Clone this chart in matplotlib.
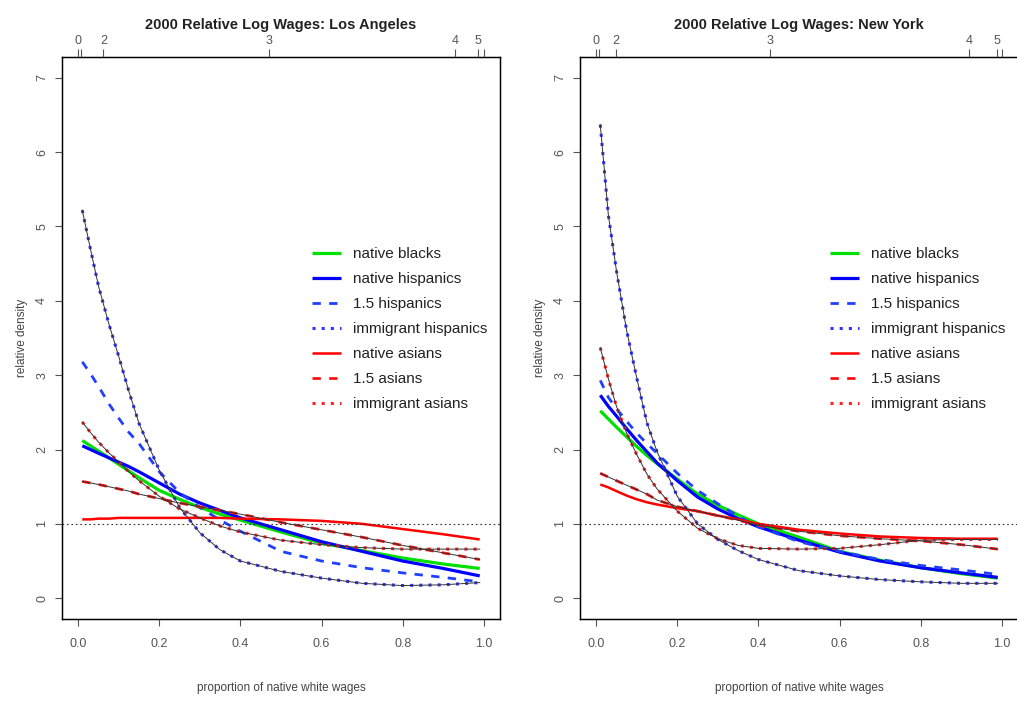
import matplotlib
matplotlib.use("Agg")
import matplotlib.pyplot as plt

# proportion of native white wages (common grid for all curves)
x = [0.01, 0.03, 0.05, 0.075, 0.1, 0.125, 0.15, 0.2, 0.25, 0.3, 0.35, 0.4,
     0.5, 0.6, 0.7, 0.8, 0.9, 0.99]

# Los Angeles relative densities
la_native_blacks = [2.12, 2.05, 1.98, 1.89, 1.80, 1.71, 1.62, 1.45, 1.33, 1.22, 1.13, 1.05,
                    0.89, 0.74, 0.64, 0.54, 0.46, 0.40]
la_native_hisp = [2.05, 2.00, 1.95, 1.89, 1.83, 1.77, 1.70, 1.55, 1.40, 1.28, 1.18, 1.08,
                  0.92, 0.76, 0.63, 0.50, 0.40, 0.30]
la_15_hisp = [3.18, 3.02, 2.85, 2.62, 2.42, 2.23, 2.08, 1.70, 1.42, 1.22, 1.05, 0.90,
              0.63, 0.50, 0.41, 0.34, 0.28, 0.22]
la_imm_hisp = [5.22, 4.70, 4.20, 3.70, 3.25, 2.78, 2.35, 1.72, 1.22, 0.88, 0.65, 0.50,
               0.36, 0.27, 0.20, 0.17, 0.18, 0.21]
la_native_asian = [1.06, 1.06, 1.07, 1.07, 1.08, 1.08, 1.08, 1.08, 1.08, 1.08, 1.08, 1.07,
                   1.06, 1.04, 1.00, 0.93, 0.86, 0.79]
la_15_asian = [1.57, 1.55, 1.53, 1.50, 1.47, 1.44, 1.40, 1.34, 1.28, 1.23, 1.18, 1.13,
               1.02, 0.92, 0.82, 0.71, 0.61, 0.52]
la_imm_asian = [2.37, 2.23, 2.10, 1.96, 1.83, 1.70, 1.58, 1.37, 1.20, 1.08, 0.97, 0.89,
                0.78, 0.72, 0.68, 0.66, 0.66, 0.66]

# New York relative densities
ny_native_blacks = [2.52, 2.41, 2.30, 2.17, 2.04, 1.92, 1.81, 1.60, 1.40, 1.25, 1.12, 1.00,
                    0.82, 0.63, 0.51, 0.41, 0.33, 0.27]
ny_native_hisp = [2.73, 2.58, 2.45, 2.28, 2.12, 1.97, 1.82, 1.58, 1.36, 1.20, 1.07, 0.96,
                  0.78, 0.62, 0.50, 0.41, 0.34, 0.28]
ny_15_hisp = [2.93, 2.70, 2.55, 2.38, 2.22, 2.08, 1.95, 1.68, 1.45, 1.27, 1.10, 0.96,
              0.76, 0.63, 0.52, 0.44, 0.38, 0.32]
ny_imm_hisp = [6.37, 5.15, 4.40, 3.60, 2.96, 2.36, 1.97, 1.37, 1.00, 0.79, 0.64, 0.52,
               0.37, 0.30, 0.25, 0.22, 0.20, 0.20]
ny_native_asian = [1.53, 1.49, 1.44, 1.38, 1.33, 1.29, 1.26, 1.21, 1.17, 1.11, 1.06, 1.00,
                   0.92, 0.87, 0.83, 0.81, 0.80, 0.80]
ny_15_asian = [1.68, 1.63, 1.58, 1.52, 1.46, 1.40, 1.32, 1.23, 1.17, 1.11, 1.05, 0.98,
               0.90, 0.84, 0.80, 0.77, 0.72, 0.66]
ny_imm_asian = [3.37, 2.95, 2.58, 2.22, 1.93, 1.67, 1.47, 1.17, 0.94, 0.80, 0.71, 0.67,
                0.66, 0.67, 0.72, 0.78, 0.79, 0.79]

labels = ["native blacks", "native hispanics", "1.5 hispanics", "immigrant hispanics",
          "native asians", "1.5 asians", "immigrant asians"]

# top axis: deciles of log wages mapped to proportion
la_top_pos = [0.0, 0.007, 0.062, 0.47, 0.93, 0.985, 1.0]
ny_top_pos = [0.0, 0.007, 0.049, 0.429, 0.919, 0.988, 1.0]
top_labels = ["0", "", "2", "3", "4", "5", ""]

# line styles for the seven groups
styles = [
    dict(color="#00e000", lw=2.3, ls="-"),
    dict(color="#0000ff", lw=2.3, ls="-"),
    dict(color="#2040ff", lw=2.0, ls=(0, (3, 3))),
    dict(color="#3030ff", lw=2.2, ls=(0, (1, 2))),
    dict(color="#ff0000", lw=1.8, ls="-"),
    dict(color="#ff1010", lw=2.0, ls=(0, (3, 3))),
    dict(color="#ff2020", lw=2.2, ls=(0, (1, 2))),
]
overlay = [False, False, False, True, False, True, True]

plt.rcParams["font.family"] = ["Liberation Sans", "DejaVu Sans"]

fig = plt.figure(figsize=(10.17, 7.06), dpi=100)
fig.patch.set_facecolor("white")


def panel(rect, title, series, top_pos):
    ax = fig.add_axes(rect)
    for vals, st in zip(series, styles):
        ax.plot(x, vals, solid_capstyle="butt", **st)
    # thin dark fitted line drawn over some of the curves
    for vals, ov in zip(series, overlay):
        if ov:
            ax.plot(x, vals, color="#333333", lw=0.7)
    ax.axhline(1, color="#333333", lw=0.8, ls=(0, (1.5, 2.5)))
    ax.set_xlim(-0.04, 1.04)
    ax.set_ylim(-0.28, 7.28)
    ax.set_xticks([0.0, 0.2, 0.4, 0.6, 0.8, 1.0])
    ax.set_xticklabels(["0.0", "0.2", "0.4", "0.6", "0.8", "1.0"])
    ax.set_yticks(range(8))
    ax.tick_params(axis="x", length=5, pad=9, labelsize=9, colors="#555555")
    ax.tick_params(axis="y", length=5, pad=5, labelsize=9, colors="#555555",
                   labelrotation=90)
    for lab in ax.get_yticklabels():
        lab.set_va("center")
    for sp in ax.spines.values():
        sp.set_color("black")
        sp.set_linewidth(1.0)
    ax.set_xlabel("proportion of native white wages", fontsize=8.5, color="#444444",
                  labelpad=23)
    ax.set_ylabel("relative density", fontsize=8.5, color="#444444", labelpad=6)

    top = ax.twiny()
    top.set_xlim(ax.get_xlim())
    top.set_xticks(top_pos)
    top.set_xticklabels(top_labels)
    top.tick_params(axis="x", length=6, pad=1, labelsize=9, colors="#555555")
    top.set_title(title, fontsize=10.5, fontweight="bold", pad=20, color="#222222")

    leg = ax.legend(labels, loc="upper left", bbox_to_anchor=(0.556, 0.672),
                    frameon=False, fontsize=11, handlelength=1.9,
                    handletextpad=0.8, labelspacing=0.72, borderaxespad=0)
    for t in leg.get_texts():
        t.set_color("#222222")
    return ax


panel([62 / 1017, 87 / 706, 438 / 1017, 562 / 706], "2000 Relative Log Wages: Los Angeles",
      [la_native_blacks, la_native_hisp, la_15_hisp, la_imm_hisp,
       la_native_asian, la_15_asian, la_imm_asian], la_top_pos)
panel([580 / 1017, 87 / 706, 438 / 1017, 562 / 706], "2000 Relative Log Wages: New York",
      [ny_native_blacks, ny_native_hisp, ny_15_hisp, ny_imm_hisp,
       ny_native_asian, ny_15_asian, ny_imm_asian], ny_top_pos)

fig.savefig("out.png", dpi=100)
